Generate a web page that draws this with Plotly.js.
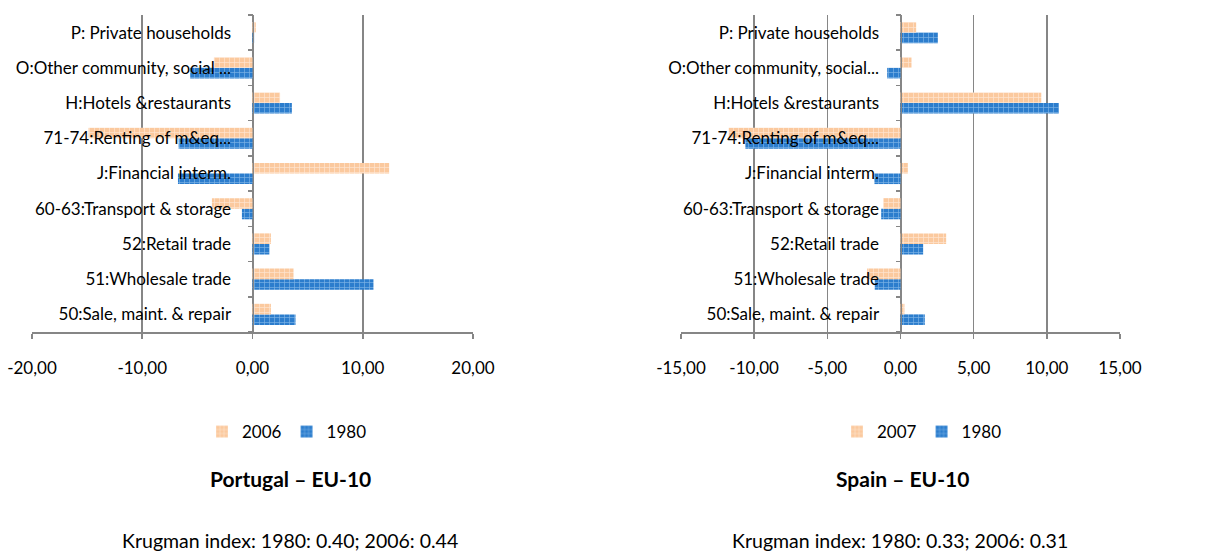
<!DOCTYPE html>
<html>
<head>
<meta charset="utf-8">
<script src="https://cdn.plot.ly/plotly-3.0.1.min.js"></script>
<style>html,body{margin:0;padding:0;background:#fff;}#chart{width:1214px;height:560px;}</style>
</head>
<body>
<div id="chart"></div>
<script>
// Categories listed bottom -> top
const categoriesPT = ['50:Sale, maint. & repair','51:Wholesale trade','52:Retail trade','60-63:Transport & storage','J:Financial interm.','71-74:Renting of m&eq...','H:Hotels &restaurants','O:Other community, social ...','P: Private households'];
const categoriesES = ['50:Sale, maint. & repair','51:Wholesale trade','52:Retail trade','60-63:Transport & storage','J:Financial interm.','71-74:Renting of m&eq...','H:Hotels &restaurants','O:Other community, social...','P: Private households'];

const pt2006 = [1.67, 3.72, 1.67, -3.68, 12.4, -14.87, 2.5, -3.5, 0.3];
const pt1980 = [3.9, 10.97, 1.54, -0.96, -6.76, -6.7, 3.57, -5.65, 0.15];
const es2007 = [0.27, -2.28, 3.12, -1.18, 0.5, -11.74, 9.62, 0.75, 1.07];
const es1980 = [1.66, -1.76, 1.55, -1.32, -1.78, -10.6, 10.83, -0.91, 2.55];

const ptTickVals = [-20, -10, 0, 10, 20];
const ptTickText = ['-20,00', '-10,00', '0,00', '10,00', '20,00'];
const esTickVals = [-15, -10, -5, 0, 5, 10, 15];
const esTickText = ['-15,00', '-10,00', '-5,00', '0,00', '5,00', '10,00', '15,00'];

const titlePT = 'Portugal – EU-10';
const titleES = 'Spain – EU-10';
const notePT = 'Krugman index: 1980: 0.40; 2006: 0.44';
const noteES = 'Krugman index: 1980: 0.33; 2006: 0.31';

const W = 1214, H = 560;
const FONT = 'Lato, Carlito, Calibri, sans-serif';
const GRID = '#868686';

const orange = {color: '#FBC99E', pattern: {shape: '+', bgcolor: '#FBC99E', fgcolor: '#FEE6D2', size: 5, solidity: 0.25}};
const blue = {color: '#2C7DCD', pattern: {shape: '+', bgcolor: '#2C7DCD', fgcolor: '#7DB3E6', size: 5, solidity: 0.25}};

const domL = [32 / W, 473 / W];
const domR = [681 / W, 1120 / W];
const domY = [1 - 332 / H, 1 - 15 / H];

function zeroPos(dom, range) { return dom[0] + (0 - range[0]) / (range[1] - range[0]) * (dom[1] - dom[0]); }
const rangeL = [-20, 20], rangeR = [-15, 15];

const traces = [
  {type: 'bar', orientation: 'h', name: '1980', y: categoriesPT, x: pt1980, xaxis: 'x', yaxis: 'y', marker: blue, legend: 'legend', hoverinfo: 'x+y'},
  {type: 'bar', orientation: 'h', name: '2006', y: categoriesPT, x: pt2006, xaxis: 'x', yaxis: 'y', marker: orange, legend: 'legend', hoverinfo: 'x+y'},
  {type: 'bar', orientation: 'h', name: '1980', y: categoriesES, x: es1980, xaxis: 'x2', yaxis: 'y2', marker: blue, legend: 'legend2', hoverinfo: 'x+y'},
  {type: 'bar', orientation: 'h', name: '2007', y: categoriesES, x: es2007, xaxis: 'x2', yaxis: 'y2', marker: orange, legend: 'legend2', hoverinfo: 'x+y'}
];

function xAxis(dom, range, vals, text, anchor) {
  return {domain: dom, range: range, anchor: anchor, tickmode: 'array', tickvals: vals, ticktext: text,
    showgrid: true, gridcolor: GRID, gridwidth: 1.6, zeroline: false,
    showline: true, linecolor: GRID, linewidth: 1.6, ticks: 'outside', ticklen: 5, tickcolor: GRID, tickwidth: 1.6,
    ticklabelstandoff: 15, tickfont: {family: FONT, size: 17, color: '#000'}, fixedrange: true};
}
function yAxis(pos) {
  return {domain: domY, type: 'category', anchor: 'free', position: pos,
    showline: true, linecolor: GRID, linewidth: 1.6, ticks: 'outside', tickson: 'boundaries', ticklen: 5,
    tickcolor: GRID, tickwidth: 1.6, showgrid: false, ticklabelstandoff: 18,
    tickfont: {family: FONT, size: 17, color: '#000'}, fixedrange: true};
}

const legendBase = {orientation: 'h', xanchor: 'center', yanchor: 'middle', y: 1 - 432 / H, traceorder: 'reversed',
  font: {family: FONT, size: 17, color: '#000'}, bgcolor: 'rgba(0,0,0,0)', itemwidth: 30};

const layout = {
  width: W, height: H, margin: {l: 0, r: 0, t: 0, b: 0},
  paper_bgcolor: '#fff', plot_bgcolor: '#fff',
  barmode: 'group', bargap: 0.4, bargroupgap: 0,
  xaxis: xAxis(domL, rangeL, ptTickVals, ptTickText, 'y'),
  yaxis: yAxis(zeroPos(domL, rangeL)),
  xaxis2: xAxis(domR, rangeR, esTickVals, esTickText, 'y2'),
  yaxis2: yAxis(zeroPos(domR, rangeR)),
  legend: Object.assign({}, legendBase, {x: 287 / W}),
  legend2: Object.assign({}, legendBase, {x: 922 / W}),
  showlegend: true,
  annotations: [
    {text: '<b>' + titlePT + '</b>', x: 290 / W, y: 1 - 478 / H, xref: 'paper', yref: 'paper', showarrow: false, xanchor: 'center', yanchor: 'middle', font: {family: FONT, size: 21, color: '#000'}},
    {text: '<b>' + titleES + '</b>', x: 902 / W, y: 1 - 478 / H, xref: 'paper', yref: 'paper', showarrow: false, xanchor: 'center', yanchor: 'middle', font: {family: FONT, size: 21, color: '#000'}},
    {text: notePT, x: 290 / W, y: 1 - 540 / H, xref: 'paper', yref: 'paper', showarrow: false, xanchor: 'center', yanchor: 'middle', font: {family: FONT, size: 19.5, color: '#000'}},
    {text: noteES, x: 900 / W, y: 1 - 540 / H, xref: 'paper', yref: 'paper', showarrow: false, xanchor: 'center', yanchor: 'middle', font: {family: FONT, size: 19.5, color: '#000'}}
  ]
};

Plotly.newPlot('chart', traces, layout, {displayModeBar: false, staticPlot: true});
</script>
</body>
</html>
